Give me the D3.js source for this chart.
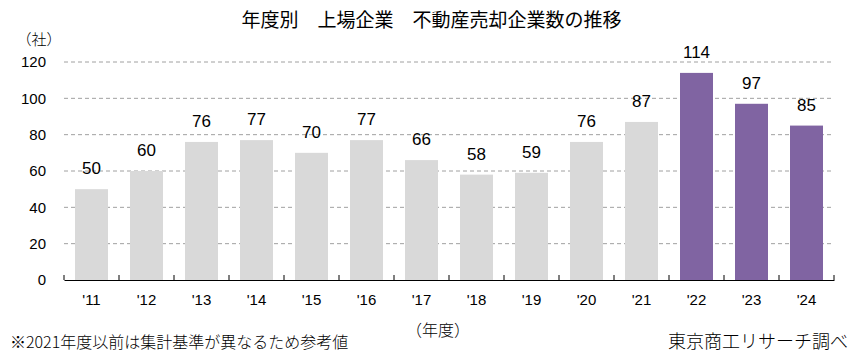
<!DOCTYPE html>
<html>
<head>
<meta charset="utf-8">
<script src="https://cdn.jsdelivr.net/npm/d3@7"></script>
<style>
body { margin: 0; background: #fff; }
text { font-family: "Noto Sans CJK JP", "Noto Sans", sans-serif; font-weight: 300; fill: #000; }
text.num { font-family: "Liberation Sans", Arial, sans-serif; font-weight: normal; }
</style>
</head>
<body>
<script>
var years = ["'11","'12","'13","'14","'15","'16","'17","'18","'19","'20","'21","'22","'23","'24"];
var counts = [50, 60, 76, 77, 70, 77, 66, 58, 59, 76, 87, 114, 97, 85];
var highlight = [false,false,false,false,false,false,false,false,false,false,false,true,true,true];
var yTicks = [0, 20, 40, 60, 80, 100, 120];

var W = 863, H = 360;
var margin = {top: 62, right: 29, bottom: 80, left: 64};
var width = W - margin.left - margin.right,
    height = H - margin.top - margin.bottom;

var svg = d3.select("body").append("svg")
    .attr("width", W)
    .attr("height", H);

svg.append("text")
    .attr("x", W / 2)
    .attr("y", 27)
    .attr("text-anchor", "middle")
    .style("font-size", "19px")
    .style("font-weight", "normal")
    .text("年度別　上場企業　不動産売却企業数の推移");

var g = svg.append("g")
    .attr("transform", "translate(" + margin.left + "," + margin.top + ")");

var x = d3.scaleBand()
    .domain(years)
    .range([0, width])
    .paddingInner(0.4)
    .paddingOuter(0.2);

var y = d3.scaleLinear()
    .domain([0, 120])
    .range([height, 0]);

// grid
g.selectAll("line.grid")
    .data(yTicks.filter(function(d) { return d > 0; }))
    .enter().append("line")
    .attr("class", "grid")
    .attr("x1", 0)
    .attr("x2", width)
    .attr("y1", function(d) { return y(d); })
    .attr("y2", function(d) { return y(d); })
    .attr("stroke", "#a0a0a0")
    .attr("stroke-dasharray", "4,3");

// y labels
g.selectAll("text.ylab")
    .data(yTicks)
    .enter().append("text")
    .attr("class", "ylab num")
    .attr("x", -18)
    .attr("y", function(d) { return y(d); })
    .attr("dy", "0.35em")
    .attr("text-anchor", "end")
    .style("font-size", "15px")
    .text(function(d) { return d; });

svg.append("text")
    .attr("x", 39)
    .attr("y", 45)
    .attr("text-anchor", "middle")
    .style("font-size", "15px")
    .text("（社）");

g.selectAll("rect.bar")
    .data(counts)
    .enter().append("rect")
    .attr("class", "bar")
    .attr("x", function(d, i) { return x(years[i]); })
    .attr("width", x.bandwidth())
    .attr("y", function(d) { return y(d); })
    .attr("height", function(d) { return height - y(d); })
    .attr("fill", function(d, i) { return highlight[i] ? "#8064a2" : "#d9d9d9"; });

g.selectAll("text.val")
    .data(counts)
    .enter().append("text")
    .attr("class", "val num")
    .attr("x", function(d, i) { return x(years[i]) + x.bandwidth() / 2; })
    .attr("y", function(d) { return y(d) - 15; })
    .attr("text-anchor", "middle")
    .style("font-size", "17px")
    .text(function(d) { return d; });

// x axis
var xAxis = d3.axisBottom(x).tickSize(0).tickPadding(14);
var ax = g.append("g")
    .attr("transform", "translate(0," + height + ")")
    .call(xAxis);
ax.select(".domain").attr("stroke", "#000");
ax.selectAll("text")
    .attr("class", "num")
    .style("font-size", "15px")
    .style("font-family", "\"Liberation Sans\", Arial, sans-serif");

// tick marks between categories
var step = x.step();
var bounds = d3.range(years.length + 1).map(function(i) { return i * step; });
g.selectAll("line.xt")
    .data(bounds)
    .enter().append("line")
    .attr("class", "xt")
    .attr("x1", function(d) { return d; })
    .attr("x2", function(d) { return d; })
    .attr("y1", height)
    .attr("y2", height - 5)
    .attr("stroke", "#000");

svg.append("text")
    .attr("x", 438)
    .attr("y", 336)
    .attr("text-anchor", "middle")
    .style("font-size", "16px")
    .text("（年度）");

svg.append("text")
    .attr("x", 10)
    .attr("y", 348)
    .style("font-size", "16px")
    .text("※2021年度以前は集計基準が異なるため参考値");

svg.append("text")
    .attr("x", 848)
    .attr("y", 348)
    .attr("text-anchor", "end")
    .style("font-size", "18px")
    .text("東京商工リサーチ調べ");
</script>
</body>
</html>
